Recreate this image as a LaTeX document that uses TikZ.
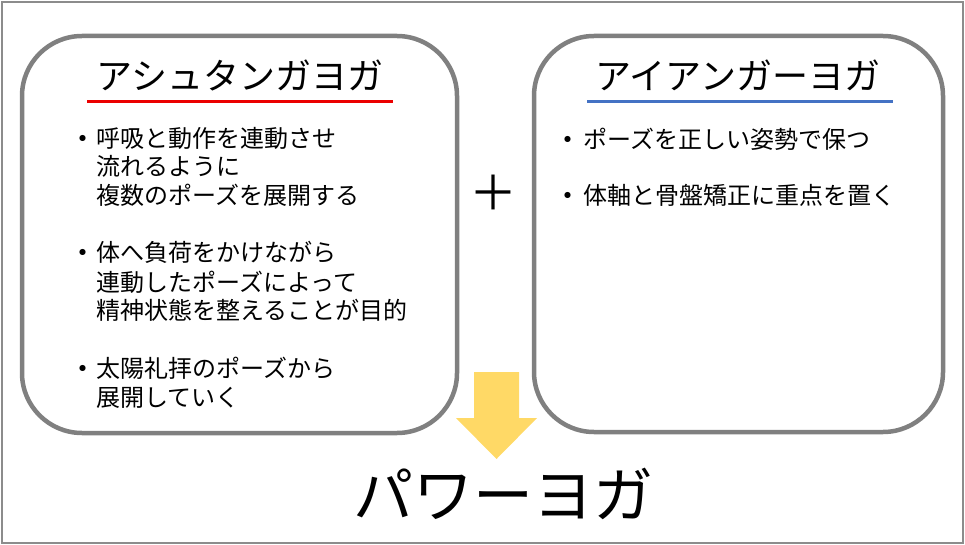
\documentclass[tikz,border=0pt]{standalone}
\usepackage{fontspec}
\setmainfont{Noto Sans CJK JP}
\definecolor{boxgray}{RGB}{128,128,128}
\definecolor{framegray}{RGB}{140,140,140}
\definecolor{ulred}{RGB}{235,0,0}
\definecolor{ulblue}{RGB}{68,114,196}
\definecolor{arrowyellow}{RGB}{255,217,102}
\begin{document}
\begin{tikzpicture}[x=1pt,y=-1pt,
  yogabox/.style={draw=boxgray,line width=4.5pt,rounded corners=60pt},
  titletext/.style={inner sep=0pt,anchor=base,font=\fontsize{36pt}{40pt}\selectfont},
  bodytext/.style={inner sep=0pt,anchor=base west,font=\fontsize{24pt}{29pt}\selectfont},
  bullettext/.style={inner sep=0pt,anchor=base,font=\fontsize{29pt}{32pt}\selectfont},
  uline/.style={line width=3pt}]
\useasboundingbox (0,0) rectangle (965,545);
\draw[framegray,line width=2pt] (2,2) rectangle (963,543);
% boxes
\draw[yogabox] (22,36) rectangle (457,433);
\draw[yogabox] (534,36) rectangle (943,432);
% titles
\node[titletext] (t1) at (240,90) {アシュタンガヨガ};
\node[titletext] (t2) at (738,90) {アイアンガーヨガ};
\coordinate (u1a) at (87,102); \coordinate (u1b) at (393,102);
\coordinate (u2a) at (587,102); \coordinate (u2b) at (893,102);
\draw[uline,ulred] (u1a) -- (u1b);
\draw[uline,ulblue] (u2a) -- (u2b);
% left bullets
\node[bullettext] (b1) at (83,150) {・};
\node[bodytext] (l1) at (96,148) {呼吸と動作を連動させ};
\node[bodytext] (l2) at (96,176) {流れるように};
\node[bodytext] (l3) at (96,205) {複数のポーズを展開する};
\node[bullettext] (b2) at (83,263) {・};
\node[bodytext] (l4) at (96,261) {体へ負荷をかけながら};
\node[bodytext] (l5) at (96,291) {連動したポーズによって};
\node[bodytext] (l6) at (96,319) {精神状態を整えることが目的};
\node[bullettext] (b3) at (83,379) {・};
\node[bodytext] (l7) at (96,377) {太陽礼拝のポーズから};
\node[bodytext] (l8) at (96,406) {展開していく};
% right bullets
\node[bullettext] (b4) at (568,151) {・};
\node[bodytext] (r1) at (583,149) {ポーズを正しい姿勢で保つ};
\node[bullettext] (b5) at (568,207) {・};
\node[bodytext] (r2) at (583,205) {体軸と骨盤矯正に重点を置く};
% plus
\node[inner sep=0pt,font=\fontsize{48pt}{50pt}\selectfont] (plus) at (493,193) {＋};
% arrow
\fill[arrowyellow] (474,372) -- (519,372) -- (519,418) -- (537,418) -- (496.5,459) -- (456,418) -- (474,418) -- cycle;
% result
\node[inner sep=0pt,anchor=base,font=\fontsize{60pt}{64pt}\selectfont] (res) at (503,517) {パワーヨガ};
\end{tikzpicture}
\end{document}
